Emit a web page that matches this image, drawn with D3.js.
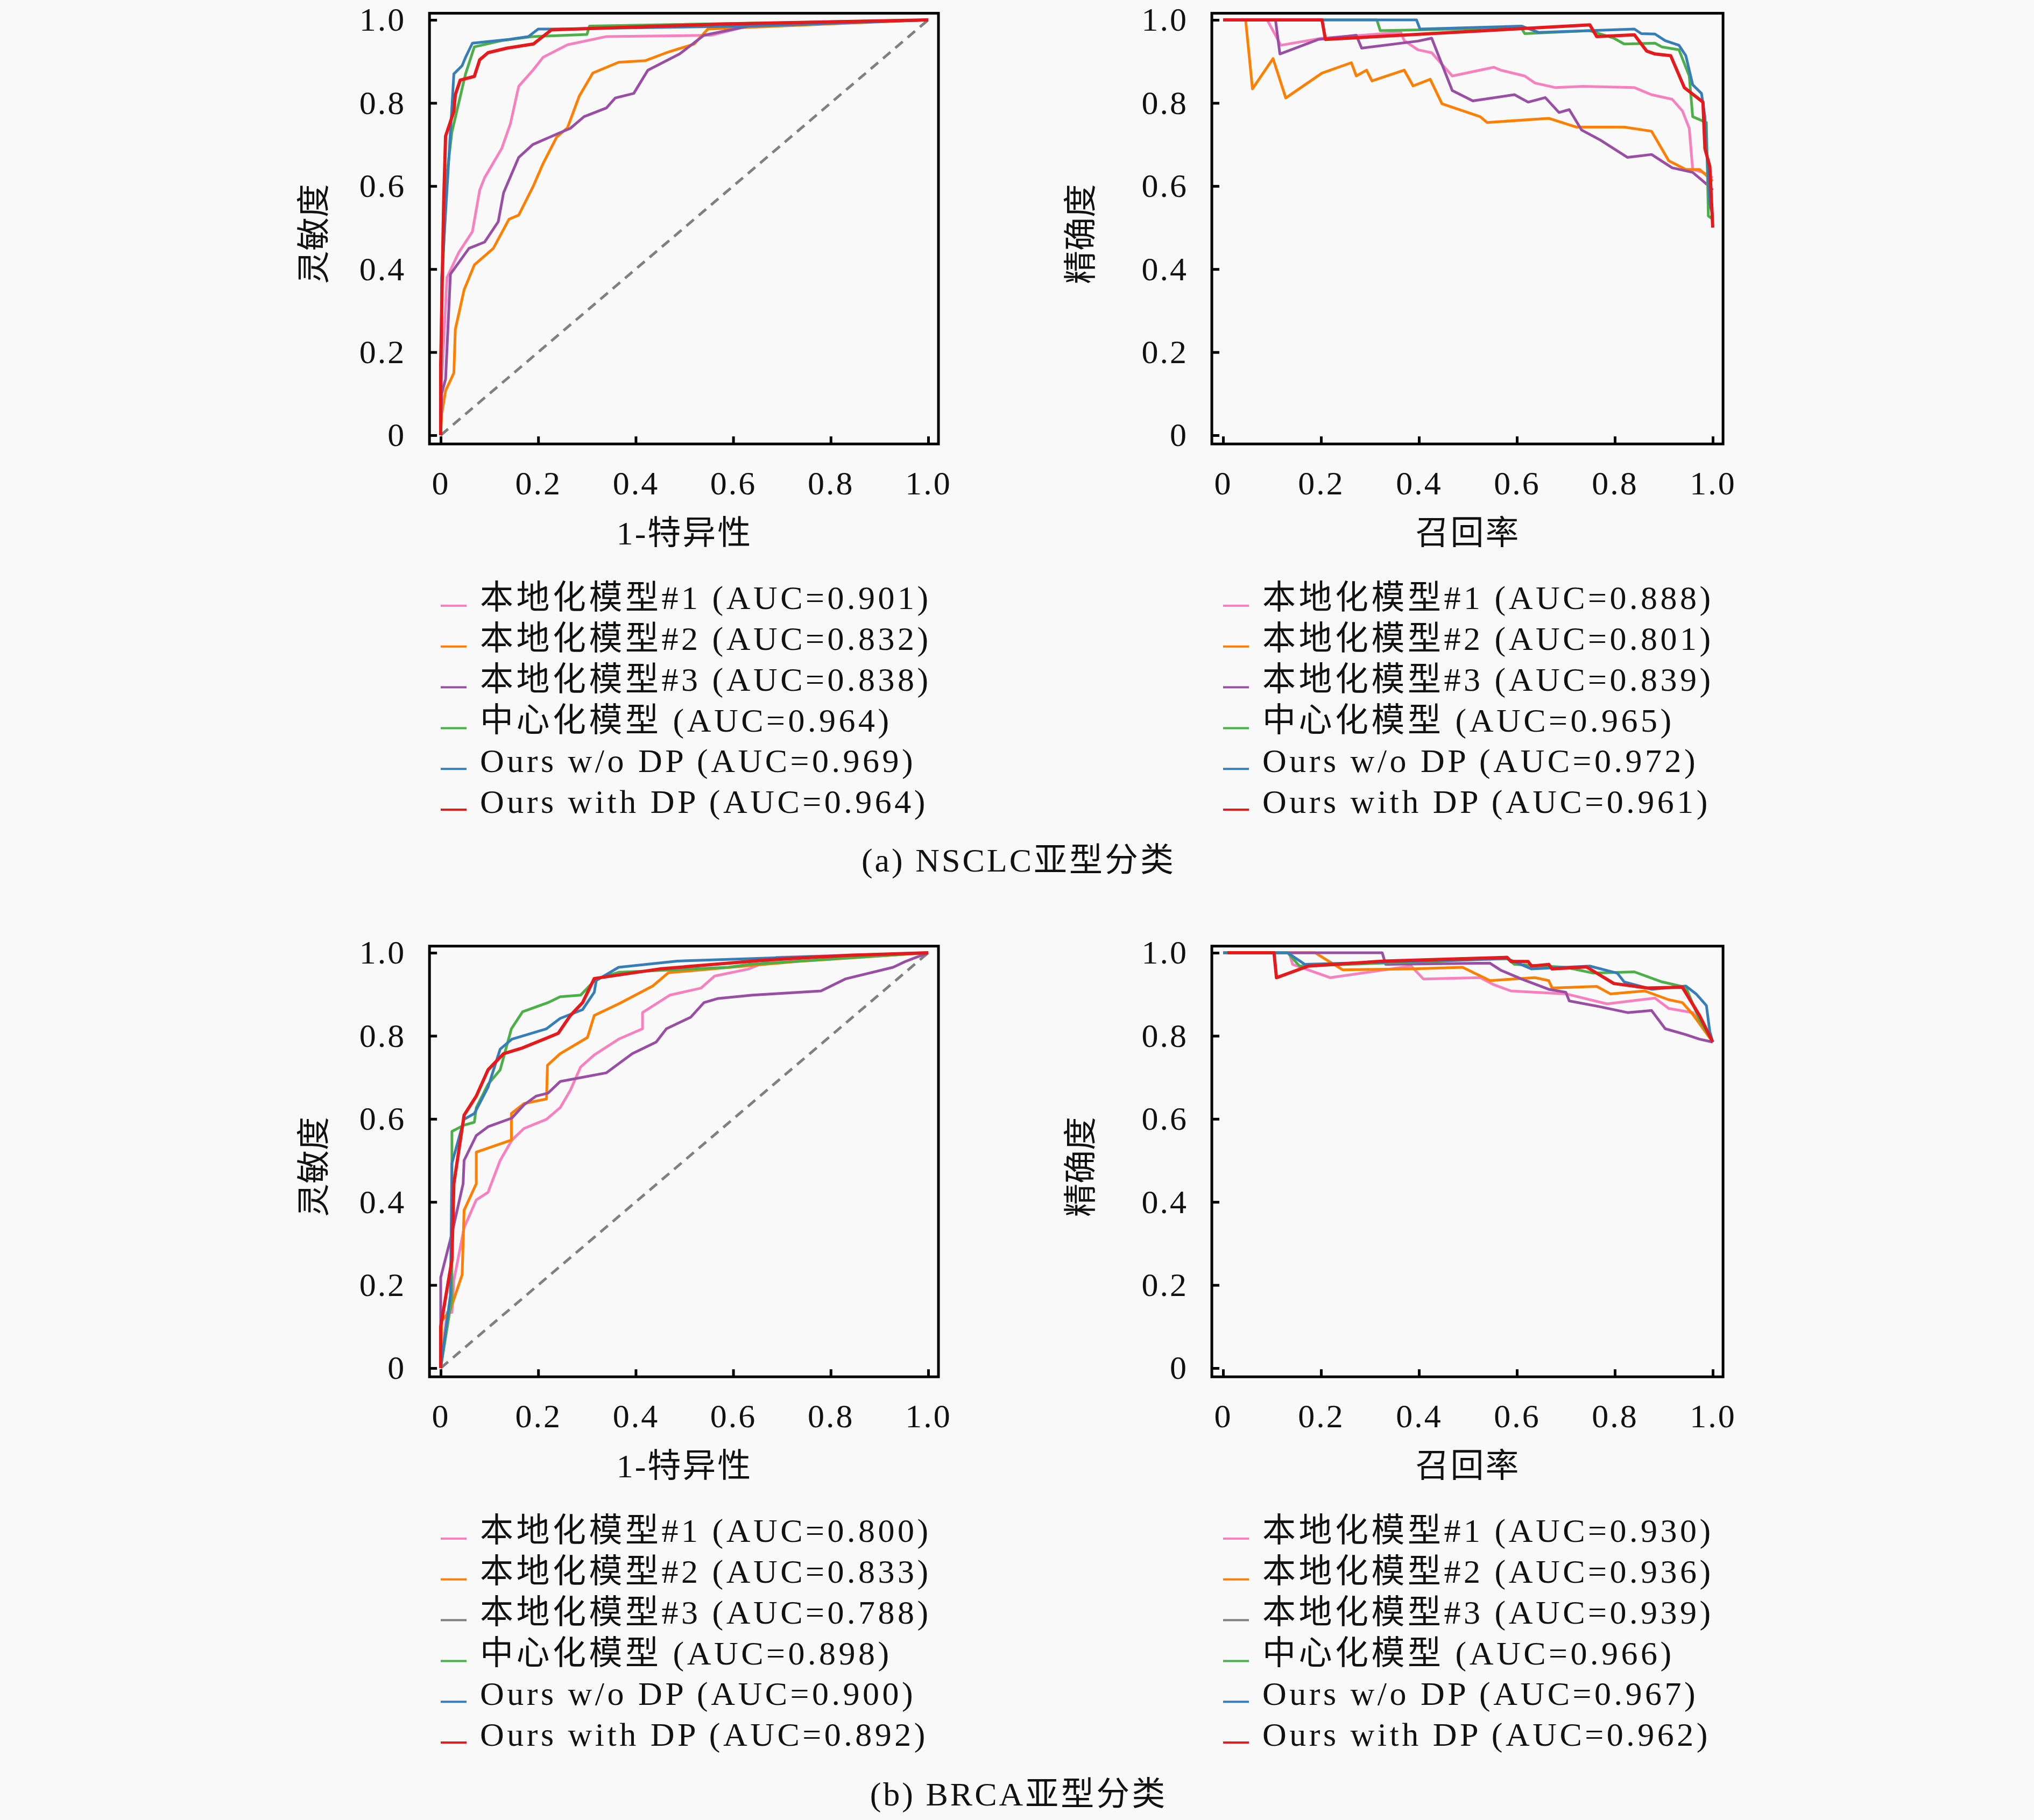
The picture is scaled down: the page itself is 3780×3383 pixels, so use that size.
<!DOCTYPE html>
<html>
<head>
<meta charset="utf-8">
<script src="https://cdn.jsdelivr.net/npm/d3@7"></script>
<style>
  body { margin: 0; background: #f9f9f9; }
  text { font-family: "Liberation Serif", "Noto Sans CJK SC", serif; fill: #111; }
</style>
</head>
<body>
<div id="chart"></div>
<script>
// ---- data ----
const seriesNames = ["本地化模型#1", "本地化模型#2", "本地化模型#3", "中心化模型", "Ours w/o DP", "Ours with DP"];
const colors = ["#f781bf", "#ff7f00", "#984ea3", "#4daf4a", "#377eb8", "#e41a1c"];
const legendColorsB = ["#f781bf", "#ff7f00", "#808080", "#4daf4a", "#377eb8", "#e41a1c"];
const ticks = [0, 0.2, 0.4, 0.6, 0.8, 1.0];

const aucRocA = ["0.901", "0.832", "0.838", "0.964", "0.969", "0.964"];
const aucPrA  = ["0.888", "0.801", "0.839", "0.965", "0.972", "0.961"];
const aucRocB = ["0.800", "0.833", "0.788", "0.898", "0.900", "0.892"];
const aucPrB  = ["0.930", "0.936", "0.939", "0.966", "0.967", "0.962"];

// NSCLC ROC
const rocA_local1 = [[0,0],[0.002,0.13],[0.013,0.38],[0.037,0.44],[0.065,0.49],[0.08,0.59],[0.09,0.62],[0.125,0.69],[0.143,0.75],[0.16,0.84],[0.19,0.88],[0.21,0.91],[0.26,0.94],[0.34,0.96],[0.555,0.963],[0.63,0.985],[1,1]];
const rocA_local2 = [[0,0],[0.002,0.05],[0.01,0.107],[0.027,0.15],[0.03,0.255],[0.048,0.35],[0.069,0.41],[0.108,0.45],[0.14,0.52],[0.16,0.53],[0.19,0.6],[0.21,0.654],[0.238,0.718],[0.26,0.74],[0.284,0.816],[0.312,0.872],[0.365,0.898],[0.42,0.902],[0.463,0.921],[0.52,0.942],[0.548,0.978],[1,1]];
const rocA_local3 = [[0,0],[0.002,0.1],[0.01,0.135],[0.02,0.388],[0.058,0.45],[0.09,0.465],[0.118,0.514],[0.129,0.584],[0.16,0.669],[0.189,0.7],[0.238,0.725],[0.266,0.739],[0.294,0.767],[0.34,0.788],[0.358,0.812],[0.396,0.823],[0.425,0.879],[0.49,0.918],[0.54,0.963],[0.632,0.985],[1,1]];
const rocA_central = [[0,0],[0.002,0.345],[0.013,0.63],[0.023,0.73],[0.037,0.8],[0.051,0.87],[0.069,0.935],[0.125,0.95],[0.19,0.96],[0.3,0.965],[0.305,0.985],[1,1]];
const rocA_noDP = [[0,0],[0.002,0.38],[0.02,0.73],[0.027,0.87],[0.044,0.89],[0.051,0.91],[0.065,0.944],[0.14,0.953],[0.18,0.96],[0.2,0.978],[0.23,0.978],[0.63,0.985],[1,1]];
const rocA_DP = [[0,0],[0,0.17],[0.006,0.556],[0.01,0.72],[0.027,0.78],[0.03,0.82],[0.04,0.855],[0.069,0.864],[0.08,0.904],[0.097,0.921],[0.136,0.932],[0.19,0.942],[0.227,0.976],[0.576,0.99],[1,1]];

// NSCLC PR
const prA_local1 = [[0,1],[0.09,1],[0.118,0.939],[0.202,0.956],[0.363,0.97],[0.37,0.95],[0.398,0.928],[0.426,0.921],[0.468,0.865],[0.553,0.886],[0.567,0.879],[0.616,0.865],[0.637,0.848],[0.679,0.837],[0.735,0.84],[0.84,0.837],[0.875,0.82],[0.917,0.809],[0.938,0.781],[0.952,0.739],[0.959,0.64],[0.98,0.633],[1,0.62]];
const prA_local2 = [[0,1],[0.046,1],[0.06,0.834],[0.102,0.907],[0.128,0.812],[0.202,0.872],[0.262,0.897],[0.272,0.865],[0.293,0.879],[0.304,0.853],[0.37,0.879],[0.388,0.841],[0.423,0.857],[0.447,0.798],[0.525,0.767],[0.539,0.753],[0.665,0.763],[0.721,0.742],[0.819,0.742],[0.875,0.732],[0.91,0.661],[0.945,0.64],[0.973,0.64],[1,0.612]];
const prA_local3 = [[0.016,1],[0.107,1],[0.116,0.918],[0.195,0.953],[0.272,0.963],[0.283,0.932],[0.398,0.949],[0.426,0.956],[0.447,0.893],[0.468,0.83],[0.51,0.805],[0.595,0.82],[0.623,0.802],[0.658,0.813],[0.686,0.777],[0.707,0.784],[0.732,0.735],[0.77,0.711],[0.826,0.669],[0.875,0.676],[0.917,0.644],[0.959,0.633],[0.994,0.598],[1,0.59]];
const prA_central = [[0,1],[0.314,1],[0.321,0.974],[0.609,0.981],[0.616,0.967],[0.749,0.974],[0.798,0.956],[0.819,0.942],[0.882,0.944],[0.896,0.935],[0.931,0.928],[0.952,0.865],[0.959,0.767],[0.987,0.753],[0.991,0.528],[1,0.52]];
const prA_noDP = [[0,1],[0.395,1],[0.402,0.978],[0.61,0.985],[0.644,0.97],[0.84,0.978],[0.854,0.967],[0.882,0.966],[0.903,0.95],[0.931,0.939],[0.945,0.914],[0.959,0.844],[0.977,0.823],[0.984,0.767],[0.991,0.612],[0.994,0.556],[1,0.53]];
const prA_DP = [[0,1],[0.202,1],[0.209,0.953],[0.749,0.988],[0.763,0.96],[0.84,0.964],[0.865,0.925],[0.882,0.918],[0.914,0.914],[0.942,0.837],[0.98,0.802],[0.984,0.69],[0.994,0.647],[1,0.5]];

// BRCA ROC
const rocB_local1 = [[0,0],[0.013,0.134],[0.023,0.134],[0.027,0.211],[0.048,0.338],[0.073,0.405],[0.097,0.423],[0.122,0.5],[0.146,0.549],[0.171,0.577],[0.217,0.599],[0.245,0.627],[0.266,0.669],[0.287,0.725],[0.315,0.754],[0.365,0.792],[0.414,0.817],[0.414,0.856],[0.47,0.898],[0.534,0.915],[0.562,0.944],[0.632,0.961],[0.689,0.989],[1,1]];
const rocB_local2 = [[0,0],[0.002,0.113],[0.02,0.141],[0.044,0.225],[0.048,0.38],[0.073,0.444],[0.073,0.52],[0.145,0.549],[0.145,0.613],[0.171,0.637],[0.217,0.648],[0.219,0.729],[0.245,0.757],[0.301,0.796],[0.315,0.849],[0.365,0.877],[0.435,0.92],[0.467,0.952],[0.576,0.963],[0.731,0.979],[1,1]];
const rocB_local3 = [[0,0],[0,0.218],[0.023,0.324],[0.046,0.444],[0.048,0.5],[0.073,0.56],[0.097,0.581],[0.146,0.602],[0.171,0.634],[0.196,0.655],[0.22,0.662],[0.245,0.69],[0.34,0.711],[0.393,0.757],[0.442,0.785],[0.463,0.817],[0.513,0.845],[0.54,0.88],[0.569,0.89],[0.639,0.898],[0.78,0.908],[0.83,0.937],[0.928,0.965],[0.953,0.979],[1,1]];
const rocB_central = [[0,0],[0.023,0.169],[0.023,0.57],[0.048,0.585],[0.069,0.592],[0.073,0.627],[0.097,0.683],[0.122,0.718],[0.145,0.817],[0.168,0.858],[0.22,0.88],[0.245,0.894],[0.287,0.898],[0.319,0.937],[0.365,0.953],[0.59,0.965],[0.632,0.972],[1,1]];
const rocB_noDP = [[0,0],[0.02,0.176],[0.023,0.493],[0.048,0.599],[0.069,0.613],[0.097,0.676],[0.122,0.768],[0.146,0.792],[0.217,0.817],[0.245,0.842],[0.291,0.863],[0.315,0.905],[0.319,0.933],[0.365,0.965],[0.485,0.98],[1,1]];
const rocB_DP = [[0,0],[0,0.1],[0.023,0.26],[0.027,0.444],[0.048,0.609],[0.073,0.655],[0.097,0.718],[0.129,0.757],[0.168,0.771],[0.241,0.806],[0.266,0.849],[0.291,0.88],[0.315,0.938],[0.449,0.961],[0.66,0.982],[0.837,0.994],[1,1]];

// BRCA PR
const prB_local1 = [[0,1],[0.135,1],[0.142,0.972],[0.219,0.94],[0.384,0.968],[0.409,0.937],[0.525,0.94],[0.553,0.923],[0.588,0.908],[0.7,0.901],[0.784,0.877],[0.882,0.891],[0.91,0.866],[0.959,0.856],[1,0.785]];
const prB_local2 = [[0,1],[0.188,1],[0.244,0.959],[0.384,0.961],[0.489,0.965],[0.545,0.933],[0.637,0.94],[0.665,0.933],[0.672,0.915],[0.763,0.919],[0.791,0.901],[0.861,0.908],[0.91,0.887],[0.938,0.88],[0.959,0.852],[1,0.785]];
const prB_local3 = [[0.009,1],[0.325,1],[0.332,0.972],[0.545,0.975],[0.567,0.958],[0.609,0.937],[0.665,0.912],[0.7,0.905],[0.707,0.884],[0.77,0.87],[0.826,0.856],[0.875,0.861],[0.903,0.817],[0.945,0.803],[0.973,0.792],[1,0.785]];
const prB_central = [[0,1],[0.132,1],[0.156,0.968],[0.58,0.986],[0.595,0.972],[0.7,0.965],[0.756,0.951],[0.84,0.954],[0.896,0.93],[0.945,0.917],[0.973,0.838],[1,0.785]];
const prB_noDP = [[0,1],[0.132,1],[0.167,0.972],[0.58,0.986],[0.63,0.961],[0.749,0.968],[0.805,0.951],[0.819,0.93],[0.875,0.912],[0.945,0.92],[0.966,0.901],[0.987,0.873],[0.994,0.81],[1,0.785]];
const prB_DP = [[0.009,1],[0.104,1],[0.109,0.94],[0.174,0.968],[0.328,0.98],[0.58,0.989],[0.588,0.979],[0.623,0.979],[0.63,0.968],[0.665,0.972],[0.672,0.961],[0.742,0.966],[0.798,0.926],[0.868,0.915],[0.938,0.917],[0.973,0.849],[1,0.785]];

// ---- layout ----
const W = 3780, H = 3383;
const FS = 62;
const svg = d3.select("#chart").append("svg").attr("width", W).attr("height", H);
svg.append("rect").attr("width", W).attr("height", H).attr("fill", "#f9f9f9");

const fmt = d => d === 0 ? "0" : d.toFixed(1);

function panel(cfg) {
  const x = d3.scaleLinear().domain([0, 1]).range(cfg.xr);
  const y = d3.scaleLinear().domain([0, 1]).range([cfg.top + 784, cfg.top + 12]);
  const g = svg.append("g");

  if (cfg.diag) {
    g.append("line")
      .attr("x1", x(0)).attr("y1", y(0)).attr("x2", x(1)).attr("y2", y(1))
      .attr("stroke", "#808080").attr("stroke-width", 5).attr("stroke-dasharray", "18,12");
  }

  const line = d3.line().x(d => x(d[0])).y(d => y(d[1]));
  cfg.series.forEach((s, i) => {
    g.append("path").datum(s).attr("d", line)
      .attr("fill", "none").attr("stroke", colors[i])
      .attr("stroke-width", i === 5 ? 6 : 5).attr("stroke-linejoin", "round");
  });

  // frame
  g.append("rect")
    .attr("x", x(-0.023)).attr("y", y(1.016))
    .attr("width", x(1.021) - x(-0.023)).attr("height", y(-0.021) - y(1.016))
    .attr("fill", "none").attr("stroke", "#000").attr("stroke-width", 5);

  const xAxis = g.append("g")
    .attr("transform", `translate(0, ${y(-0.021)})`)
    .call(d3.axisBottom(x).tickValues(ticks).tickFormat(fmt).tickSize(-14).tickPadding(50));
  const yAxis = g.append("g")
    .attr("transform", `translate(${x(-0.023)}, 0)`)
    .call(d3.axisLeft(y).tickValues(ticks).tickFormat(fmt).tickSize(-14).tickPadding(44));
  [xAxis, yAxis].forEach(a => {
    a.select(".domain").remove();
    a.selectAll("line").attr("stroke", "#000").attr("stroke-width", 5);
    a.selectAll("text").attr("font-size", FS).attr("font-family", "Liberation Serif")
      .attr("letter-spacing", 3).attr("fill", "#111");
  });

  g.append("text")
    .attr("x", (cfg.xr[0] + cfg.xr[1]) / 2).attr("y", cfg.top + 973)
    .attr("text-anchor", "middle").attr("dominant-baseline", "middle")
    .attr("font-size", FS).attr("letter-spacing", 3).text(cfg.xTitle);
  g.append("text")
    .attr("transform", `translate(${cfg.yTitleX}, ${cfg.top + 410}) rotate(-90)`)
    .attr("text-anchor", "middle").attr("dominant-baseline", "middle")
    .attr("font-size", FS).text(cfg.yTitle);

  // legend
  const lg = g.append("g").attr("transform", `translate(${cfg.xr[0]}, ${cfg.top + 1093})`);
  seriesNames.forEach((n, i) => {
    const row = lg.append("g").attr("transform", `translate(0, ${i * 75.8})`);
    row.append("line").attr("x1", 0).attr("x2", 48).attr("y1", 8).attr("y2", 8)
      .attr("stroke", cfg.legendColors[i]).attr("stroke-width", 4);
    row.append("text").attr("x", 73).attr("y", 0).attr("dominant-baseline", "middle")
      .attr("font-size", FS).attr("letter-spacing", 5.5).text(`${n} (AUC=${cfg.auc[i]})`);
  });
}

const leftX = [819, 1725], rightX = [2273, 3183];
const off = 1734;

panel({ xr: leftX, top: 25, diag: true, xTitle: "1-特异性", yTitle: "灵敏度", yTitleX: 591,
  series: [rocA_local1, rocA_local2, rocA_local3, rocA_central, rocA_noDP, rocA_DP], auc: aucRocA, legendColors: colors });
panel({ xr: rightX, top: 25, diag: false, xTitle: "召回率", yTitle: "精确度", yTitleX: 2016,
  series: [prA_local1, prA_local2, prA_local3, prA_central, prA_noDP, prA_DP], auc: aucPrA, legendColors: colors });
panel({ xr: leftX, top: 25 + off, diag: true, xTitle: "1-特异性", yTitle: "灵敏度", yTitleX: 591,
  series: [rocB_local1, rocB_local2, rocB_local3, rocB_central, rocB_noDP, rocB_DP], auc: aucRocB, legendColors: legendColorsB });
panel({ xr: rightX, top: 25 + off, diag: false, xTitle: "召回率", yTitle: "精确度", yTitleX: 2016,
  series: [prB_local1, prB_local2, prB_local3, prB_central, prB_noDP, prB_DP], auc: aucPrB, legendColors: legendColorsB });

svg.append("text").attr("x", 1893).attr("y", 1606).attr("text-anchor", "middle")
  .attr("dominant-baseline", "middle").attr("font-size", FS).attr("letter-spacing", 4).text("(a) NSCLC亚型分类");
svg.append("text").attr("x", 1893).attr("y", 3342).attr("text-anchor", "middle")
  .attr("dominant-baseline", "middle").attr("font-size", FS).attr("letter-spacing", 4).text("(b) BRCA亚型分类");
</script>
</body>
</html>
